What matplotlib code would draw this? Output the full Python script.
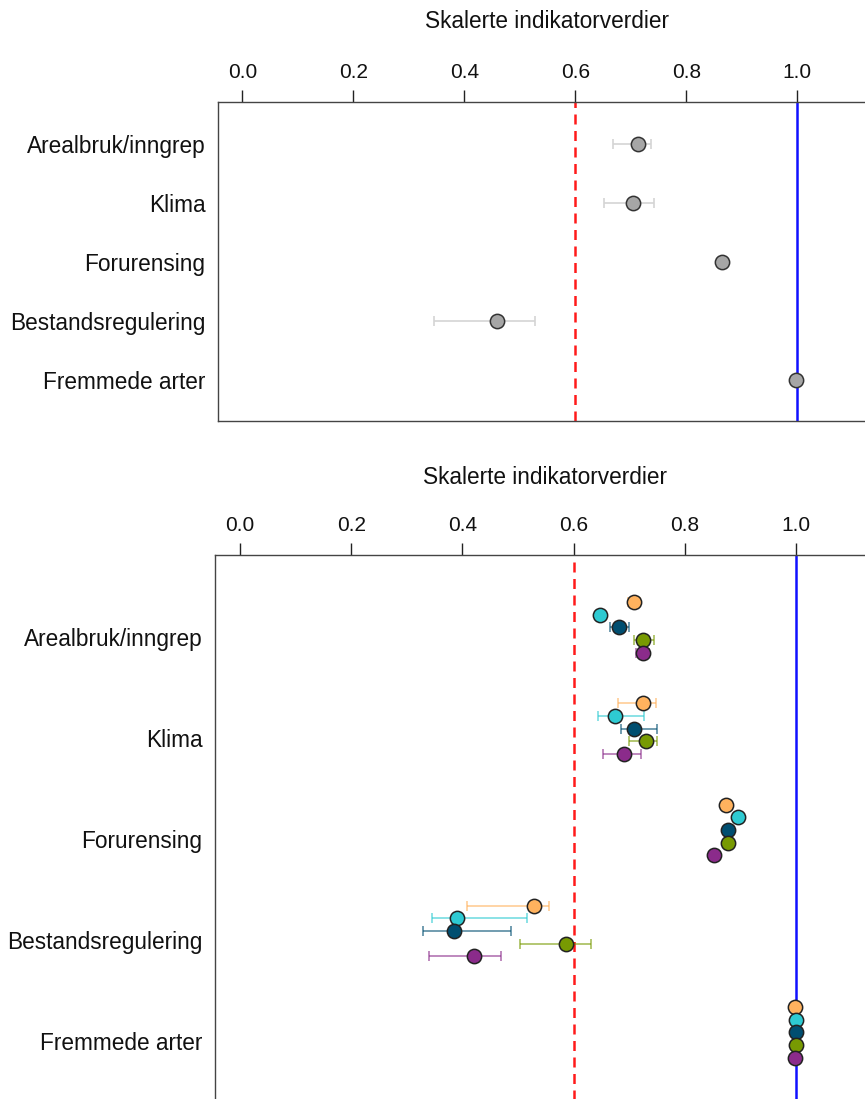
import matplotlib
matplotlib.use("Agg")
import matplotlib.pyplot as plt
import numpy as np

plt.rcParams['font.family'] = ['Liberation Sans', 'DejaVu Sans']

categories = ["Arealbruk/inngrep", "Klima", "Forurensing", "Bestandsregulering", "Fremmede arter"]
tick_values = [0.0, 0.2, 0.4, 0.6, 0.8, 1.0]
tick_labels = ["0.0", "0.2", "0.4", "0.6", "0.8", "1.0"]
axis_title = "Skalerte indikatorverdier"

# Top panel (overall)
top_mean = [0.713, 0.703, 0.864, 0.459, 0.998]
top_lo = [0.668, 0.652, 0.864, 0.346, 0.998]
top_hi = [0.736, 0.741, 0.864, 0.528, 0.998]

# Bottom panel: five series (per category)
series_colors = ["#FFB25E", "#2ECAD2", "#004E70", "#789A02", "#8B2B8B"]
s1_mean = [0.709, 0.724, 0.874, 0.528, 0.998]
s1_lo = [0.698, 0.680, 0.874, 0.408, 0.998]
s1_hi = [0.720, 0.749, 0.874, 0.556, 0.998]
s2_mean = [0.648, 0.674, 0.896, 0.391, 1.000]
s2_lo = [0.645, 0.643, 0.896, 0.345, 1.000]
s2_hi = [0.651, 0.727, 0.896, 0.517, 1.000]
s3_mean = [0.682, 0.709, 0.878, 0.384, 1.000]
s3_lo = [0.665, 0.685, 0.878, 0.329, 1.000]
s3_hi = [0.700, 0.750, 0.878, 0.487, 1.000]
s4_mean = [0.725, 0.731, 0.877, 0.586, 1.000]
s4_lo = [0.709, 0.700, 0.877, 0.504, 1.000]
s4_hi = [0.745, 0.750, 0.877, 0.631, 1.000]
s5_mean = [0.724, 0.690, 0.853, 0.420, 0.998]
s5_lo = [0.713, 0.653, 0.853, 0.339, 0.998]
s5_hi = [0.736, 0.721, 0.853, 0.469, 0.998]
series_offsets = [-0.34, -0.215, -0.09, 0.035, 0.16]

threshold = 0.6
reference = 1.0

W, H = 865, 1099
fig = plt.figure(figsize=(W / 100, H / 100), dpi=100)


def px_axes(left, top, right, bottom):
    return fig.add_axes([left / W, 1 - bottom / H, (right - left) / W, (bottom - top) / H])


def style(ax, title_x_px, title_y_px):
    for sp in ax.spines.values():
        sp.set_color("#444444")
        sp.set_linewidth(1.0)
    ax.xaxis.set_ticks_position("top")
    ax.xaxis.set_label_position("top")
    ax.set_xticks(tick_values)
    ax.set_xticklabels(tick_labels)
    ax.tick_params(axis="x", direction="out", length=8.5, width=1.0, color="#222222",
                   labelsize=15, pad=6, labelcolor="#111111")
    ax.tick_params(axis="y", length=0, labelsize=16.3, pad=9, labelcolor="#111111")
    ax.set_xlabel(axis_title, fontsize=16.3, color="#111111")
    ax.xaxis.set_label_coords(title_x_px / W, 1 - title_y_px / H, transform=fig.transFigure)
    ax.xaxis.label.set_verticalalignment("center")
    ax.axvline(threshold, color="#FF1A1A", lw=1.8, ls=(0, (4, 2.6)), zorder=1)
    ax.axvline(reference, color="#1010FF", lw=1.8, zorder=1)


ypos = np.arange(1, len(categories) + 1)

# Top panel
ax1 = px_axes(218, 102, 218 + 1.244 * 555, 421)
ax1.set_xlim(-0.044, 1.2)
ax1.set_ylim(5.695, 0.288)
style(ax1, 547, 21)
ax1.set_yticks(ypos)
ax1.set_yticklabels(categories)
m = np.array(top_mean)
ax1.errorbar(m, ypos, xerr=[m - np.array(top_lo), np.array(top_hi) - m], fmt="none",
             ecolor="#D4D4D4", elinewidth=1.2, capsize=3.8, capthick=1.2, zorder=2)
ax1.plot(m, ypos, "o", ms=10.3, mfc="#A6A6A6", mec="#333333", mew=1.1, zorder=3)

# Bottom panel
ax2 = px_axes(215, 555, 215 + 1.245 * 556, 1123)
ax2.set_xlim(-0.045, 1.2)
ax2.set_ylim(5.805, 0.195)
style(ax2, 545, 477)
ax2.set_yticks(ypos)
ax2.set_yticklabels(categories)

series = [(s1_mean, s1_lo, s1_hi), (s2_mean, s2_lo, s2_hi), (s3_mean, s3_lo, s3_hi),
          (s4_mean, s4_lo, s4_hi), (s5_mean, s5_lo, s5_hi)]
for (mn, lo, hi), col, off in zip(series, series_colors, series_offsets):
    mn = np.array(mn)
    y = ypos + off
    ax2.errorbar(mn, y, xerr=[mn - np.array(lo), np.array(hi) - mn], fmt="none",
                 ecolor=col, alpha=0.6, elinewidth=1.3, capsize=3.8, capthick=1.3, zorder=2)
    ax2.plot(mn, y, "o", ms=10.3, mfc=col, mec="#222222", mew=1.1, zorder=3)

fig.savefig("out.png", dpi=100)
